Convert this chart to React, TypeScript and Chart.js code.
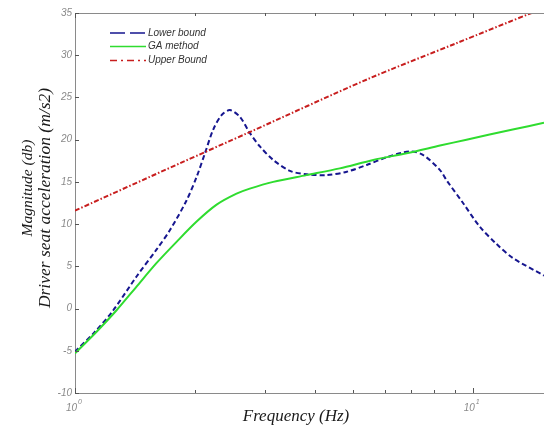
import React, { useEffect, useRef } from "react";
import { Chart, registerables } from "chart.js";

Chart.register(...registerables);

// ---- Data ----
const lowerFreq = [1, 1.12, 1.248, 1.428, 1.604, 1.733, 1.907, 2.022, 2.122, 2.226, 2.336, 2.452, 2.597, 2.75, 2.916, 3.15, 3.47, 3.82, 4.29, 4.82, 5.41, 6.06, 6.94, 7.49, 8.27, 8.59, 9.45, 10.41, 11.44, 12.6, 15.1];
const lowerVals = [-5.1, -2.8, -0.2, 3.8, 7.0, 9.3, 12.8, 15.6, 18.4, 21.2, 22.9, 23.5, 22.7, 20.8, 19.2, 17.6, 16.3, 15.9, 15.8, 16.2, 17.0, 17.9, 18.6, 18.2, 16.4, 15.2, 12.5, 9.7, 7.7, 6.0, 3.9];

const gaFreq = [1, 1.13, 1.272, 1.428, 1.604, 1.8, 2.022, 2.27, 2.547, 2.75, 3.15, 3.82, 4.63, 5.62, 6.82, 8.27, 9.64, 12.6, 15.1];
const gaVals = [-5.3, -2.8, -0.2, 2.6, 5.4, 7.9, 10.3, 12.3, 13.6, 14.2, 15.0, 15.8, 16.6, 17.6, 18.4, 19.3, 20.0, 21.2, 22.0];

const upperFreq = [1, 1.835, 2.75, 5.4, 9.07, 14.05, 15.1];
const upperVals = [11.6, 17.2, 20.9, 27.1, 31.4, 35.0, 35.5];

const seriesNames = ["Lower bound", "GA method", "Upper Bound"];
const yTickValues = [-10, -5, 0, 5, 10, 15, 20, 25, 30, 35];
const xMajorTicks = [1, 10];
const xMinorTicks = [2, 3, 4, 5, 6, 7, 8, 9];
const xMin = 1;
const xMax = 15.1;
const yMin = -10;
const yMax = 35;

const xTitle = "Frequency (Hz)";
const yTitle1 = "Magnitude (db)";
const yTitle2 = "Driver seat acceleration (m/s2)";

const SANS = "'Liberation Sans', Arial, sans-serif";
const SERIF = "'Liberation Serif', 'Times New Roman', serif";

const colors = ["#16168f", "#2fdc2f", "#c81e1e"];
const dashes = [[5, 3], [], [5, 2, 1.5, 2]];
const legendDashes = [[15, 5], [], [7, 4, 2, 4]];

function toPoints(xs: number[], ys: number[]) {
  return xs.map((x, i) => ({ x, y: ys[i] }));
}

const decorPlugin = {
  id: "decor",
  afterDraw(chart: any) {
    const ctx = chart.ctx as CanvasRenderingContext2D;
    const area = chart.chartArea;
    const xs = chart.scales.x;
    const ys = chart.scales.y;
    ctx.save();

    // top frame line
    ctx.strokeStyle = "#8a8a8a";
    ctx.lineWidth = 1;
    ctx.beginPath();
    ctx.moveTo(area.left, area.top + 0.5);
    ctx.lineTo(area.right, area.top + 0.5);
    ctx.stroke();

    // tick marks
    ctx.strokeStyle = "#555";
    ctx.beginPath();
    for (const t of xMinorTicks) {
      const px = Math.round(xs.getPixelForValue(t)) + 0.5;
      ctx.moveTo(px, area.bottom);
      ctx.lineTo(px, area.bottom - 3);
      ctx.moveTo(px, area.top);
      ctx.lineTo(px, area.top + 3);
    }
    for (const t of xMajorTicks) {
      const px = Math.round(xs.getPixelForValue(t)) + 0.5;
      ctx.moveTo(px, area.bottom);
      ctx.lineTo(px, area.bottom - 5);
      ctx.moveTo(px, area.top);
      ctx.lineTo(px, area.top + 5);
    }
    for (const v of yTickValues) {
      const py = Math.round(ys.getPixelForValue(v)) + 0.5;
      ctx.moveTo(area.left, py);
      ctx.lineTo(area.left + 4, py);
    }
    ctx.stroke();

    // x tick labels 10^n
    ctx.fillStyle = "#8a8a8a";
    xMajorTicks.forEach((t) => {
      const px = xs.getPixelForValue(t);
      const exp = String(Math.round(Math.log10(t)));
      ctx.font = `italic 10px ${SANS}`;
      ctx.textAlign = "right";
      ctx.textBaseline = "alphabetic";
      ctx.fillText("10", px + 2, area.bottom + 18);
      ctx.font = `italic 7px ${SANS}`;
      ctx.textAlign = "left";
      ctx.fillText(exp, px + 3, area.bottom + 11);
    });

    // axis titles
    ctx.fillStyle = "#1a1a1a";
    ctx.font = `italic 17px ${SERIF}`;
    ctx.textAlign = "center";
    ctx.textBaseline = "middle";
    ctx.fillText(xTitle, 296, 417);

    ctx.save();
    ctx.translate(28, 188);
    ctx.rotate(-Math.PI / 2);
    ctx.font = `italic 15.5px ${SERIF}`;
    ctx.fillText(yTitle1, 0, 0);
    ctx.restore();

    ctx.save();
    ctx.translate(45, 198);
    ctx.rotate(-Math.PI / 2);
    ctx.font = `italic 17.5px ${SERIF}`;
    ctx.fillText(yTitle2, 0, 0);
    ctx.restore();

    // legend
    const rowsY = [33, 46.5, 60.5];
    seriesNames.forEach((name, i) => {
      const y = rowsY[i];
      ctx.strokeStyle = colors[i];
      ctx.lineWidth = 1.3;
      ctx.setLineDash(legendDashes[i]);
      ctx.beginPath();
      ctx.moveTo(110, y);
      ctx.lineTo(146, y);
      ctx.stroke();
      ctx.setLineDash([]);
      ctx.fillStyle = "#333";
      ctx.font = `italic 10px ${SANS}`;
      ctx.textAlign = "left";
      ctx.textBaseline = "middle";
      ctx.fillText(name, 148, y);
    });

    ctx.restore();
  },
};

export default function App() {
  const canvasRef = useRef<HTMLCanvasElement | null>(null);

  useEffect(() => {
    const canvas = canvasRef.current;
    if (!canvas) return;
    const mk = (i: number, pts: { x: number; y: number }[]) => ({
      label: seriesNames[i],
      data: pts,
      borderColor: colors[i],
      backgroundColor: colors[i],
      borderWidth: 2,
      borderDash: dashes[i],
      pointRadius: 0,
      fill: false,
      tension: 0.3,
    });
    const chart = new Chart(canvas, {
      type: "line",
      data: {
        datasets: [
          mk(2, toPoints(upperFreq, upperVals)),
          mk(1, toPoints(gaFreq, gaVals)),
          mk(0, toPoints(lowerFreq, lowerVals)),
        ],
      },
      options: {
        responsive: false,
        animation: false,
        devicePixelRatio: 1,
        layout: { padding: { top: 13, right: 0, left: 0, bottom: 0 } },
        plugins: {
          legend: { display: false },
          tooltip: { enabled: false },
          title: { display: false },
        },
        scales: {
          x: {
            type: "logarithmic",
            min: xMin,
            max: xMax,
            ticks: { display: false },
            grid: { display: false, drawTicks: false },
            border: { display: true, color: "#8a8a8a", width: 1 },
            afterFit: (s: any) => {
              s.height = 35;
            },
          },
          y: {
            type: "linear",
            min: yMin,
            max: yMax,
            ticks: {
              stepSize: 5,
              padding: 3,
              color: "#8a8a8a",
              font: { family: SANS, size: 10, style: "italic" },
            },
            grid: { display: false, drawTicks: false },
            border: { display: true, color: "#8a8a8a", width: 1 },
            afterFit: (s: any) => {
              s.width = 75;
            },
          },
        },
      },
      plugins: [decorPlugin],
    });
    return () => chart.destroy();
  }, []);

  return (
    <div style={{ position: "fixed", left: 0, top: 0, width: 544, height: 428, background: "#fff" }}>
      <canvas ref={canvasRef} width={544} height={428} style={{ display: "block" }} />
    </div>
  );
}
